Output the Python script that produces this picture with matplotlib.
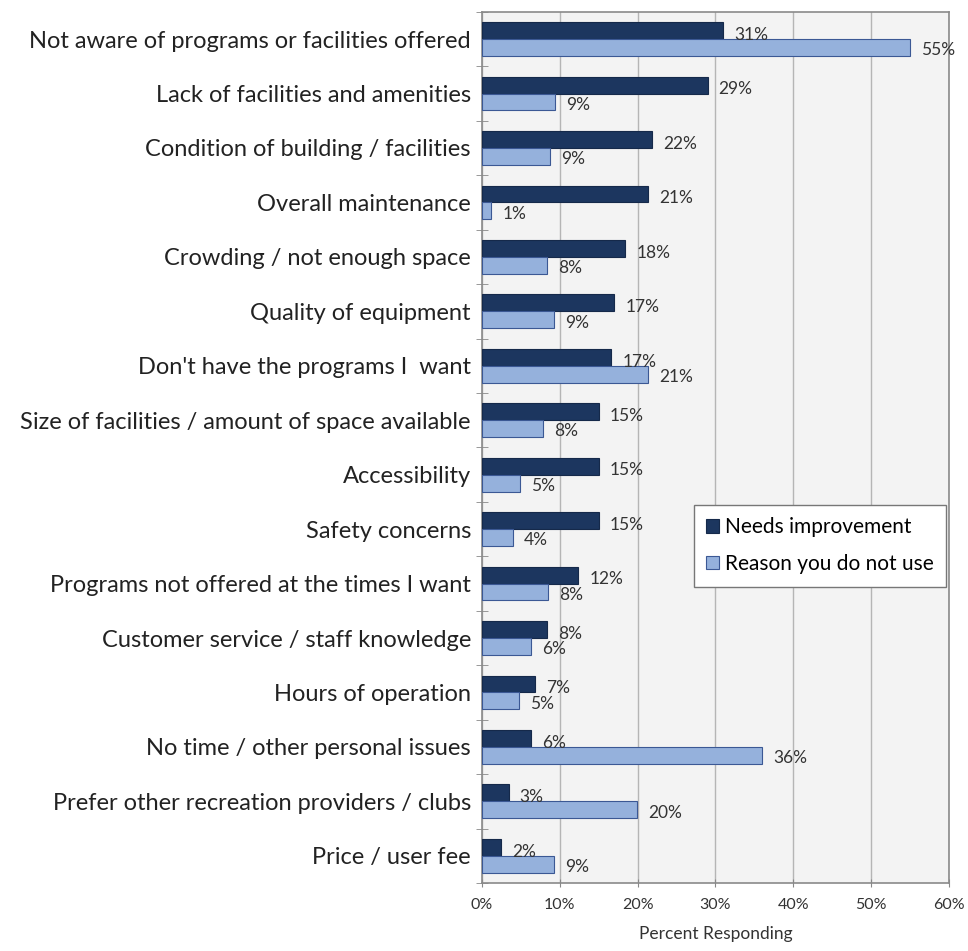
import numpy as np
import matplotlib.pyplot as plt

# categories listed top to bottom
categories = [
    "Not aware of programs or facilities offered",
    "Lack of facilities and amenities",
    "Condition of building / facilities",
    "Overall maintenance",
    "Crowding / not enough space",
    "Quality of equipment",
    "Don't have the programs I  want",
    "Size of facilities / amount of space available",
    "Accessibility",
    "Safety concerns",
    "Programs not offered at the times I want",
    "Customer service / staff knowledge",
    "Hours of operation",
    "No time / other personal issues",
    "Prefer other recreation providers / clubs",
    "Price / user fee",
]
needs_improvement = [31.0, 29.0, 21.9, 21.4, 18.4, 17.0, 16.6, 15.0, 15.0, 15.0, 12.4, 8.4, 6.8, 6.3, 3.4, 2.4]
reason_not_use = [55.0, 9.4, 8.8, 1.2, 8.3, 9.2, 21.3, 7.9, 4.9, 4.0, 8.5, 6.3, 4.8, 36.0, 19.9, 9.2]
xticks = [0, 10, 20, 30, 40, 50, 60]

plt.rcParams['font.family'] = ['Lato', 'DejaVu Sans']

fig = plt.figure(figsize=(9.68, 9.51), dpi=100)
ax = fig.add_axes([0.498, 0.0715, 0.482, 0.916])

n = len(categories)
y = np.arange(n)
h = 0.31
dark = '#1c365f'
light = '#95b1dc'

ax.barh(y - h / 2, needs_improvement, height=h, color=dark, edgecolor='#15294a',
        linewidth=0.8, label='Needs improvement', zorder=3)
ax.barh(y + h / 2, reason_not_use, height=h, color=light, edgecolor='#3b5894',
        linewidth=0.8, label='Reason you do not use', zorder=3)

for i in range(n):
    ax.annotate(f"{round(needs_improvement[i])}%", (needs_improvement[i], y[i] - h / 2),
                xytext=(8, -3), textcoords='offset points', va='center', ha='left',
                fontsize=12.5, color='#333333', zorder=4)
    ax.annotate(f"{round(reason_not_use[i])}%", (reason_not_use[i], y[i] + h / 2),
                xytext=(8, -2), textcoords='offset points', va='center', ha='left',
                fontsize=12.5, color='#333333', zorder=4)

ax.set_ylim(n - 0.5, -0.5)
ax.set_xlim(0, 60)
ax.set_yticks(y)
ax.set_yticklabels(categories, fontsize=17, color='#222222')
ax.set_yticks(np.arange(-0.5, n, 1), minor=True)
ax.tick_params(axis='y', which='major', length=0, pad=8)
ax.tick_params(axis='y', which='minor', length=8, direction='inout', color='#888888')
ax.set_xticks(xticks)
ax.set_xticklabels([f"{t}%" for t in xticks], fontsize=11.5, color='#333333')
ax.tick_params(axis='x', length=6, direction='inout', color='#888888', pad=8)
ax.set_xlabel('Percent Responding', fontsize=12.5, color='#333333', labelpad=10)

ax.set_facecolor('#f3f3f3')
ax.grid(axis='x', color='#b5b5b5', linewidth=1, zorder=0)
for s in ax.spines.values():
    s.set_color('#8a8a8a')
    s.set_linewidth(1.2)

leg = ax.legend(loc='upper left', bbox_to_anchor=(0.454, 0.434), borderaxespad=0,
                fontsize=15, frameon=True, fancybox=False, edgecolor='#777777',
                framealpha=1, handlelength=0.6, handleheight=0.6, handletextpad=0.3,
                labelspacing=0.8, borderpad=0.6)
leg.get_frame().set_linewidth(1)

fig.savefig('out.png', dpi=100)
